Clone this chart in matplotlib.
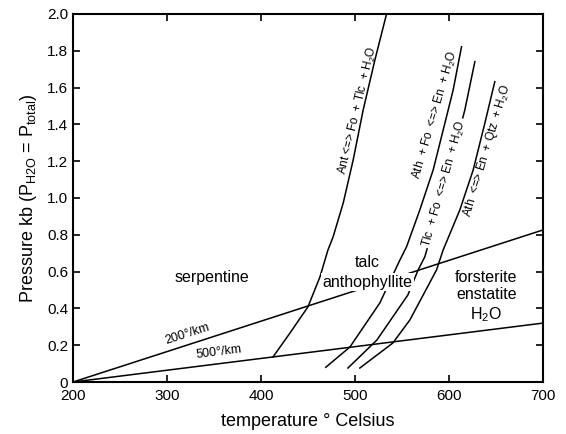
import matplotlib
matplotlib.use("Agg")
import matplotlib.pyplot as plt

plt.rcParams["font.family"] = ["Liberation Sans", "DejaVu Sans"]
plt.rcParams["mathtext.fontset"] = "custom"
plt.rcParams["mathtext.rm"] = "Liberation Sans"
plt.rcParams["mathtext.it"] = "Liberation Sans:italic"

# geotherms (temperature in C, pressure in kb)
geo_T = [200, 700]
geo200_P = [0.0, 0.826]
geo500_P = [0.0, 0.32]

# reaction curves
ant_T = [412.8, 430.9, 450.0, 462.8, 471.3, 476.9, 487.6, 498.2, 508.8, 521.3, 533.7]
ant_P = [0.136, 0.266, 0.408, 0.571, 0.717, 0.79, 0.973, 1.207, 1.478, 1.75, 2.0]

ath_fo_T = [469.0, 494.7, 526.6, 547.9, 555.0, 569.1, 583.3, 594.0, 604.6, 613.5]
ath_fo_P = [0.08, 0.19, 0.43, 0.663, 0.735, 0.935, 1.152, 1.37, 1.587, 1.822]

tlc_fo_T = [492.6, 523.4, 556.4, 567.3, 574.5, 596.0, 617.0, 627.7]
tlc_fo_P = [0.076, 0.228, 0.473, 0.609, 0.681, 1.07, 1.478, 1.741]

ath_qtz_T = [505.3, 540.4, 558.5, 586.9, 593.9, 611.7, 625.9, 638.3, 648.9]
ath_qtz_P = [0.076, 0.212, 0.337, 0.609, 0.717, 0.935, 1.152, 1.406, 1.632]

x_ticks = [200, 300, 400, 500, 600, 700]
y_ticks = [0, 0.2, 0.4, 0.6, 0.8, 1.0, 1.2, 1.4, 1.6, 1.8, 2.0]
y_labels = ["0", "0.2", "0.4", "0.6", "0.8", "1.0", "1.2", "1.4", "1.6", "1.8", "2.0"]

fig = plt.figure(figsize=(5.66, 4.34), dpi=100)
ax = fig.add_axes([0.129, 0.1198, 0.83, 0.848])

lw = 1.1
ax.plot(geo_T, geo200_P, color="black", lw=lw, zorder=2)
ax.plot(geo_T, geo500_P, color="black", lw=lw, zorder=2)
for T, P in [(ant_T, ant_P), (ath_fo_T, ath_fo_P), (tlc_fo_T, tlc_fo_P), (ath_qtz_T, ath_qtz_P)]:
    ax.plot(T, P, color="black", lw=lw, zorder=2)

ax.set_xlim(200, 700)
ax.set_ylim(0, 2.0)
ax.set_xticks(x_ticks)
ax.set_yticks(y_ticks)
ax.set_yticklabels(y_labels)
ax.tick_params(direction="in", length=5, width=1.2, labelsize=11,
               top=True, right=True, labeltop=False, labelright=False)
ax.tick_params(axis="x", pad=5)
for s in ax.spines.values():
    s.set_linewidth(1.5)

ax.set_xlabel("temperature \u00b0 Celsius", fontsize=13, labelpad=7)
ax.set_ylabel(r"Pressure kb (P$_{\mathrm{H2O}}$ = P$_{\mathrm{total}}$)", fontsize=13, labelpad=6)

white = dict(facecolor="white", edgecolor="none", pad=1.0)

# field labels
ax.text(348, 0.57, "serpentine", fontsize=11.5, ha="center", va="center")
ax.text(513, 0.652, "talc", fontsize=11.5, ha="center", va="center")
ax.text(513.8, 0.543, "anthophyllite", fontsize=11.5, ha="center", va="center",
        bbox=white, zorder=4)
ax.text(640, 0.462, "forsterite\nenstatite\nH$_2$O", fontsize=11.5, ha="center", va="center",
        linespacing=1.2)

# geotherm labels
ax.text(324, 0.232, "200\u00b0/km", fontsize=9, ha="center", va="bottom", rotation=17.9,
        rotation_mode="anchor")
ax.text(356, 0.128, "500\u00b0/km", fontsize=9, ha="center", va="bottom", rotation=7.2,
        rotation_mode="anchor")

# reaction labels
ax.text(503, 1.478, "Ant <=> Fo  + Tlc  + H$_2$O", fontsize=8.5, ha="center", va="center",
        rotation=76.5, rotation_mode="anchor")
ax.text(586, 1.45, "Ath  + Fo  <=> En  + H$_2$O", fontsize=8.5, ha="center", va="center",
        rotation=73.8, rotation_mode="anchor")
ax.text(595.5, 1.08, "Tlc  + Fo  <=> En  + H$_2$O", fontsize=8.5, ha="center", va="center",
        rotation=74.3, rotation_mode="anchor", bbox=white, zorder=4)
ax.text(641, 1.26, "Ath  <=> En  + Qtz  + H$_2$O", fontsize=8.5, ha="center", va="center",
        rotation=73.3, rotation_mode="anchor")

fig.savefig("out.png", dpi=100)
